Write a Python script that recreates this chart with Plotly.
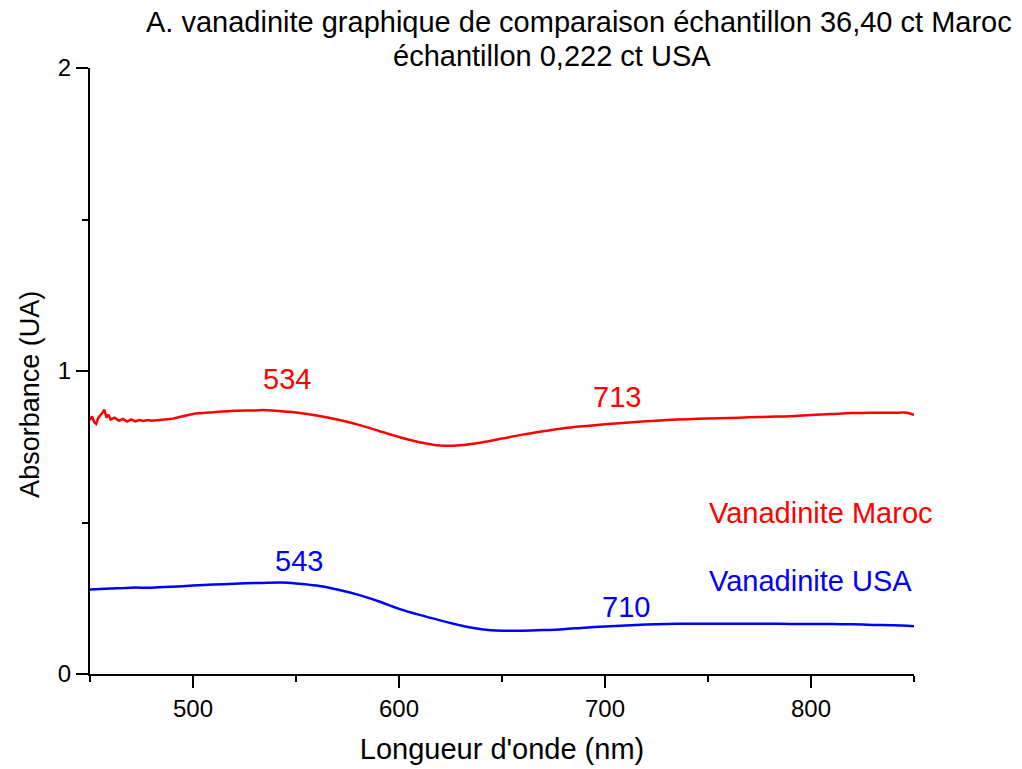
import plotly.graph_objects as go

# Absorbance spectra (wavelength in nm, absorbance in UA)
maroc_nm = [450, 451, 452, 453, 454, 455, 456, 457, 458, 459, 460, 462, 464, 466,
            468, 470, 472, 474, 476, 478, 480, 490, 500, 510, 520, 530, 534, 540,
            550, 560, 570, 580, 590, 600, 610, 620, 630, 640, 650, 660, 670, 680,
            690, 700, 710, 720, 730, 740, 750, 760, 770, 780, 790, 800, 810, 820,
            830, 840, 845, 848, 850]
maroc_abs = [0.838, 0.850, 0.832, 0.826, 0.845, 0.852, 0.862, 0.872, 0.846, 0.856,
             0.840, 0.846, 0.836, 0.842, 0.833, 0.840, 0.834, 0.838, 0.835, 0.838,
             0.836, 0.842, 0.858, 0.864, 0.869, 0.870, 0.871, 0.869, 0.863, 0.853,
             0.840, 0.823, 0.803, 0.782, 0.765, 0.754, 0.755, 0.764, 0.777, 0.790,
             0.801, 0.811, 0.818, 0.824, 0.829, 0.834, 0.838, 0.841, 0.843, 0.845,
             0.847, 0.849, 0.851, 0.855, 0.858, 0.861, 0.862, 0.862, 0.863, 0.860,
             0.855]

usa_nm = [450, 460, 470, 480, 490, 500, 510, 520, 530, 543, 550, 560, 570, 580,
          590, 600, 610, 620, 630, 640, 650, 660, 670, 680, 690, 700, 710, 720,
          730, 740, 750, 760, 770, 780, 790, 800, 810, 820, 830, 840, 850]
usa_abs = [0.279, 0.282, 0.285, 0.285, 0.288, 0.292, 0.295, 0.298, 0.300, 0.302,
           0.299, 0.292, 0.279, 0.262, 0.240, 0.215, 0.195, 0.177, 0.160, 0.148,
           0.143, 0.143, 0.145, 0.148, 0.153, 0.157, 0.160, 0.163, 0.165, 0.166,
           0.166, 0.166, 0.166, 0.166, 0.165, 0.165, 0.165, 0.164, 0.162, 0.161,
           0.158]

# Peak labels: stated wavelength, label position (nm, UA)
maroc_peaks = [534, 713]
maroc_peak_pos = [(545.8, 0.974), (706.0, 0.914)]
usa_peaks = [543, 710]
usa_peak_pos = [(551.6, 0.373), (710.4, 0.221)]

RED = "#ff0000"
BLUE = "#0000ff"
FONT = "Liberation Sans, Arial, sans-serif"
TXT = 29

fig = go.Figure()
# noisy start kept linear, smooth remainder drawn as spline
fig.add_trace(go.Scatter(x=maroc_nm[:22], y=maroc_abs[:22], mode="lines",
                         line=dict(color=RED, width=2.5), name="Vanadinite Maroc"))
fig.add_trace(go.Scatter(x=maroc_nm[21:], y=maroc_abs[21:], mode="lines",
                         line=dict(color=RED, width=2.5, shape="spline", smoothing=0.8),
                         showlegend=False))
fig.add_trace(go.Scatter(x=usa_nm, y=usa_abs, mode="lines",
                         line=dict(color=BLUE, width=2.5, shape="spline", smoothing=0.8),
                         name="Vanadinite USA"))

annotations = []
for nm, (px, py) in zip(maroc_peaks, maroc_peak_pos):
    annotations.append(dict(x=px, y=py, text=str(nm), showarrow=False,
                            font=dict(color=RED, size=TXT, family=FONT)))
for nm, (px, py) in zip(usa_peaks, usa_peak_pos):
    annotations.append(dict(x=px, y=py, text=str(nm), showarrow=False,
                            font=dict(color=BLUE, size=TXT, family=FONT)))

annotations.append(dict(x=749.6, y=0.531, text="Vanadinite Maroc", showarrow=False,
                        xanchor="left", font=dict(color=RED, size=TXT, family=FONT)))
annotations.append(dict(x=749.6, y=0.307, text="Vanadinite USA", showarrow=False,
                        xanchor="left", font=dict(color=BLUE, size=TXT, family=FONT)))

# Two-line title
annotations.append(dict(xref="paper", yref="paper", x=0.594, y=1.076,
                        text="A. vanadinite graphique de comparaison échantillon 36,40 ct Maroc",
                        showarrow=False, xanchor="center", yanchor="middle",
                        font=dict(color="black", size=TXT, family=FONT)))
annotations.append(dict(xref="paper", yref="paper", x=0.561, y=1.020,
                        text="échantillon 0,222 ct USA",
                        showarrow=False, xanchor="center", yanchor="middle",
                        font=dict(color="black", size=TXT, family=FONT)))

# Y axis title
annotations.append(dict(xref="paper", yref="paper", x=-0.073, y=0.462,
                        text="Absorbance (UA)", textangle=-90,
                        showarrow=False, xanchor="center", yanchor="middle",
                        font=dict(color="black", size=27, family=FONT)))

axis_common = dict(
    showgrid=False, zeroline=False, showline=True, linecolor="black", linewidth=2,
    ticks="outside", ticklen=12, tickwidth=2, tickcolor="black",
    tickfont=dict(size=24, color="black", family=FONT), automargin=False,
)

fig.update_layout(
    width=1022, height=769,
    margin=dict(l=90, r=108, t=68, b=95),
    plot_bgcolor="white", paper_bgcolor="white",
    showlegend=False,
    annotations=annotations,
    xaxis=dict(range=[450, 850], tick0=0, dtick=100,
               title=dict(text="Longueur d'onde (nm)", standoff=18,
                          font=dict(size=TXT, color="black", family=FONT)),
               minor=dict(dtick=50, tick0=0, ticks="outside", ticklen=6,
                          tickwidth=2, tickcolor="black"),
               **axis_common),
    yaxis=dict(range=[0, 2], tick0=0, dtick=1,
               minor=dict(dtick=0.5, tick0=0, ticks="outside", ticklen=6,
                          tickwidth=2, tickcolor="black"),
               **axis_common),
)

fig.write_html("out.html")
